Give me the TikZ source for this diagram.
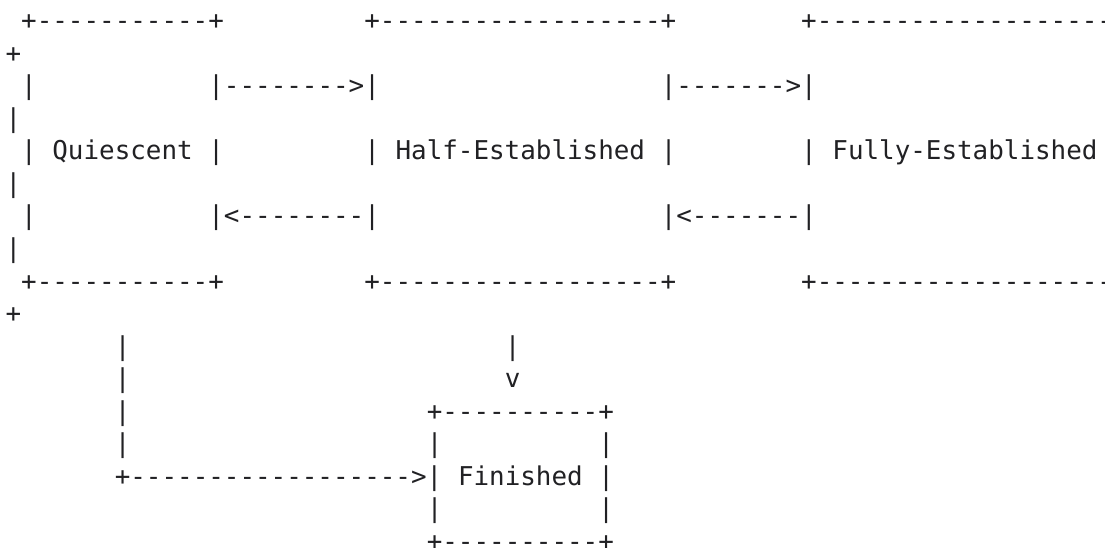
\documentclass[tikz,border=0pt]{standalone}
\usepackage{fontspec}
\setmonofont{DejaVu Sans Mono}
\definecolor{ink}{rgb}{0.13,0.13,0.14}
\newcommand\tx[4]{\node[txt] (#1) at ({5.6+15.6*#2},{517-32.5*(#3-1)}) {#4};}
\begin{document}
\begin{tikzpicture}[x=1pt,y=1pt,
  txt/.style={anchor=base west,inner sep=0pt,outer sep=0pt,text=ink,
    font=\ttfamily\fontsize{25.9}{32.5}\selectfont}]
\useasboundingbox (0,0) rectangle (1105,547);
\fill[white] (0,0) rectangle (1105,547);
\clip (0,0) rectangle (1105,547);
% row 1
\tx{qtop}{1}{1}{+-----------+}
\tx{htop}{23}{1}{+------------------+}
\tx{ftop}{51}{1}{+-------------------}
\tx{ftopwrap}{0}{2}{+}
% row 3
\tx{qlA}{1}{3}{|}
\tx{arrQH}{13}{3}{|-------->|}
\tx{arrHF}{42}{3}{|------->|}
\tx{fwrapA}{0}{4}{|}
% row 5
\tx{qlB}{1}{5}{|}
\tx{quiescent}{3}{5}{Quiescent}
\tx{qrB}{13}{5}{|}
\tx{hlB}{23}{5}{|}
\tx{half}{25}{5}{Half-Established}
\tx{hrB}{42}{5}{|}
\tx{flB}{51}{5}{|}
\tx{fully}{53}{5}{Fully-Established}
\tx{fwrapB}{0}{6}{|}
% row 7
\tx{qlC}{1}{7}{|}
\tx{arrHQ}{13}{7}{|<--------|}
\tx{arrFH}{42}{7}{|<-------|}
\tx{fwrapC}{0}{8}{|}
% row 9
\tx{qbot}{1}{9}{+-----------+}
\tx{hbot}{23}{9}{+------------------+}
\tx{fbot}{51}{9}{+-------------------}
\tx{fbotwrap}{0}{10}{+}
% rows 11-17
\tx{qdA}{7}{11}{|}
\tx{hdA}{32}{11}{|}
\tx{qdB}{7}{12}{|}
\tx{hdB}{32}{12}{v}
\tx{qdC}{7}{13}{|}
\tx{ntop}{27}{13}{+----------+}
\tx{qdD}{7}{14}{|}
\tx{nlA}{27}{14}{|}
\tx{nrA}{38}{14}{|}
\tx{arrQN}{7}{15}{+------------------>|}
\tx{finished}{29}{15}{Finished}
\tx{nrB}{38}{15}{|}
\tx{nlC}{27}{16}{|}
\tx{nrC}{38}{16}{|}
\tx{nbot}{27}{17}{+----------+}
\end{tikzpicture}
\end{document}
